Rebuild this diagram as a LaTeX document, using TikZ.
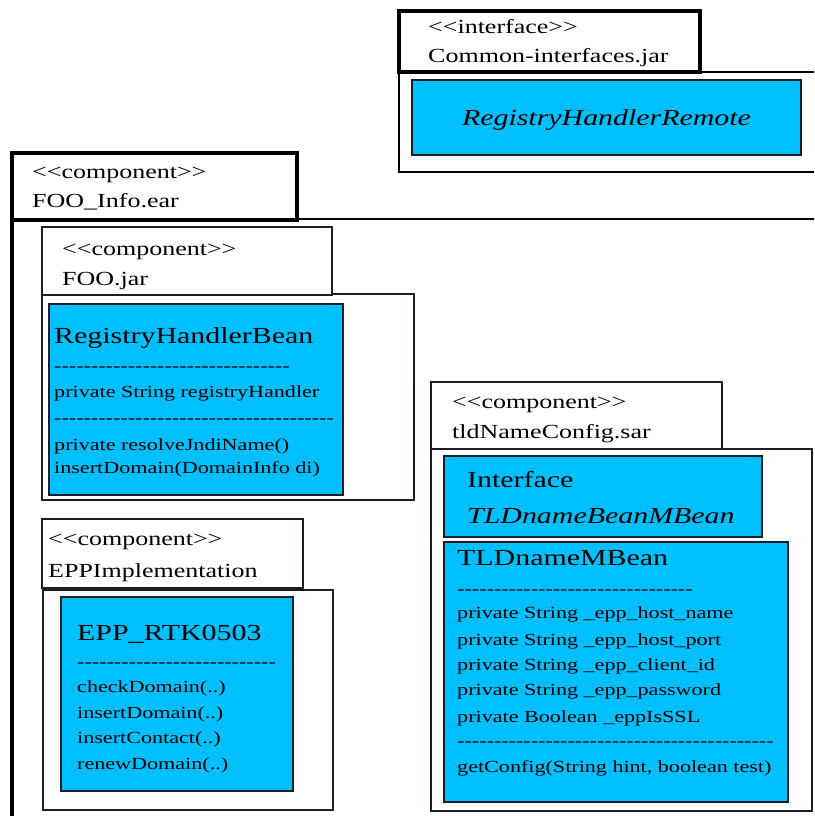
\documentclass[tikz,border=0pt]{standalone}
\usepackage{fontspec}
\setmainfont{Liberation Serif}[FakeStretch=1.3]
\newcount\dcnt
\newcommand\dashrow[1]{\dcnt=0 \loop\ifnum\dcnt<#1 -\kern0pt\advance\dcnt by 1 \repeat}
\newcommand\stereo[1]{<\kern0pt<#1>\kern0pt>}
\definecolor{umlblue}{RGB}{0,191,255}
\definecolor{edge}{RGB}{25,30,40}
\begin{document}
\begin{tikzpicture}[x=1pt,y=-1pt,
  heavytab/.style={draw=black, line width=3.2pt, fill=white},
  lighttab/.style={draw=edge, line width=1.4pt, fill=white},
  lightbody/.style={draw=edge, line width=1.4pt},
  bluebox/.style={draw=edge, line width=1.5pt, fill=umlblue},
  lbl/.style={anchor=base west, inner sep=0pt, font=\fontsize{20}{24}\selectfont},
  ttl/.style={anchor=base west, inner sep=0pt, font=\fontsize{23}{28}\selectfont},
  txt/.style={anchor=base west, inner sep=0pt, font=\fontsize{17}{20}\selectfont}]
\useasboundingbox[fill=white] (0,0) rectangle (814,816);

% ---- Common-interfaces.jar ----
\draw[line width=2.2pt] (814,72) -- (399,72) -- (399,172) -- (814,172);
\draw[bluebox] (412,80) rectangle (801,155);
\node[anchor=base, inner sep=0pt, font=\fontsize{23}{28}\selectfont\itshape] (rhr) at (606.5,125) {RegistryHandlerRemote};
\draw[heavytab] (399,11) rectangle (700,72);
\node[lbl] (ci1) at (428,34) {\stereo{interface}};
\node[lbl] (ci2) at (428,63) {Common-interfaces.jar};

% ---- FOO_Info.ear ----
\draw[line width=2pt] (814,219) -- (12,219);
\draw[line width=3.5pt] (12,219) -- (12,817);
\draw[heavytab] (12,153) rectangle (297,220);
\node[lbl] (fi1) at (32,178) {\stereo{component}};
\node[lbl] (fi2) at (32,207) {FOO\_Info.ear};

% ---- FOO.jar ----
\draw[lightbody] (42,294) rectangle (414,500);
\draw[lighttab] (42,227) rectangle (332,295);
\node[lbl] (fj1) at (62,255) {\stereo{component}};
\node[lbl] (fj2) at (62,285) {FOO.jar};
\draw[bluebox] (49,304) rectangle (343,495);
\node[ttl] (rhb) at (54,343) {RegistryHandlerBean};
\node[txt] (rhb1) at (54,371) {\dashrow{32}};
\node[txt] (rhb2) at (54,397) {private String registryHandler};
\node[txt] (rhb3) at (54,423) {\dashrow{38}};
\node[txt] (rhb4) at (54,450) {private resolveJndiName()};
\node[txt] (rhb5) at (54,473) {insertDomain(DomainInfo di)};

% ---- EPPImplementation ----
\draw[lightbody] (43,590) rectangle (333,810);
\draw[lighttab] (42,519) rectangle (303,588);
\node[lbl] (ep1) at (48,545) {\stereo{component}};
\node[lbl] (ep2) at (48,577) {EPPImplementation};
\draw[bluebox] (61,597) rectangle (293,791);
\node[ttl] (rtk) at (77,640) {EPP\_RTK0503};
\node[txt] (rtk1) at (77,667) {\dashrow{27}};
\node[txt] (rtk2) at (77,692) {checkDomain(..)};
\node[txt] (rtk3) at (77,718) {insertDomain(..)};
\node[txt] (rtk4) at (77,743) {insertContact(..)};
\node[txt] (rtk5) at (77,769) {renewDomain(..)};

% ---- tldNameConfig.sar ----
\draw[lightbody] (431,449) rectangle (812,811);
\draw[lighttab] (431,382) rectangle (722,449);
\node[lbl] (tc1) at (452,408) {\stereo{component}};
\node[lbl] (tc2) at (452,438) {tldNameConfig.sar};
\draw[bluebox] (444,456) rectangle (762,537);
\node[ttl] (if1) at (467,487) {Interface};
\node[ttl, font=\fontsize{23}{28}\selectfont\itshape] (if2) at (467,523) {TLDnameBeanMBean};
\draw[bluebox] (444,542) rectangle (788,802);
\node[ttl] (tm) at (457,565) {TLDnameMBean};
\node[txt] (tm1) at (457,594) {\dashrow{32}};
\node[txt] (tm2) at (457,618) {private String \_epp\_host\_name};
\node[txt] (tm3) at (457,645) {private String \_epp\_host\_port};
\node[txt] (tm4) at (457,670) {private String \_epp\_client\_id};
\node[txt] (tm5) at (457,695) {private String \_epp\_password};
\node[txt] (tm6) at (457,722) {private Boolean \_eppIsSSL};
\node[txt] (tm7) at (457,746) {\dashrow{43}};
\node[txt] (tm8) at (457,772) {getConfig(String hint, boolean test)};
\end{tikzpicture}
\end{document}
